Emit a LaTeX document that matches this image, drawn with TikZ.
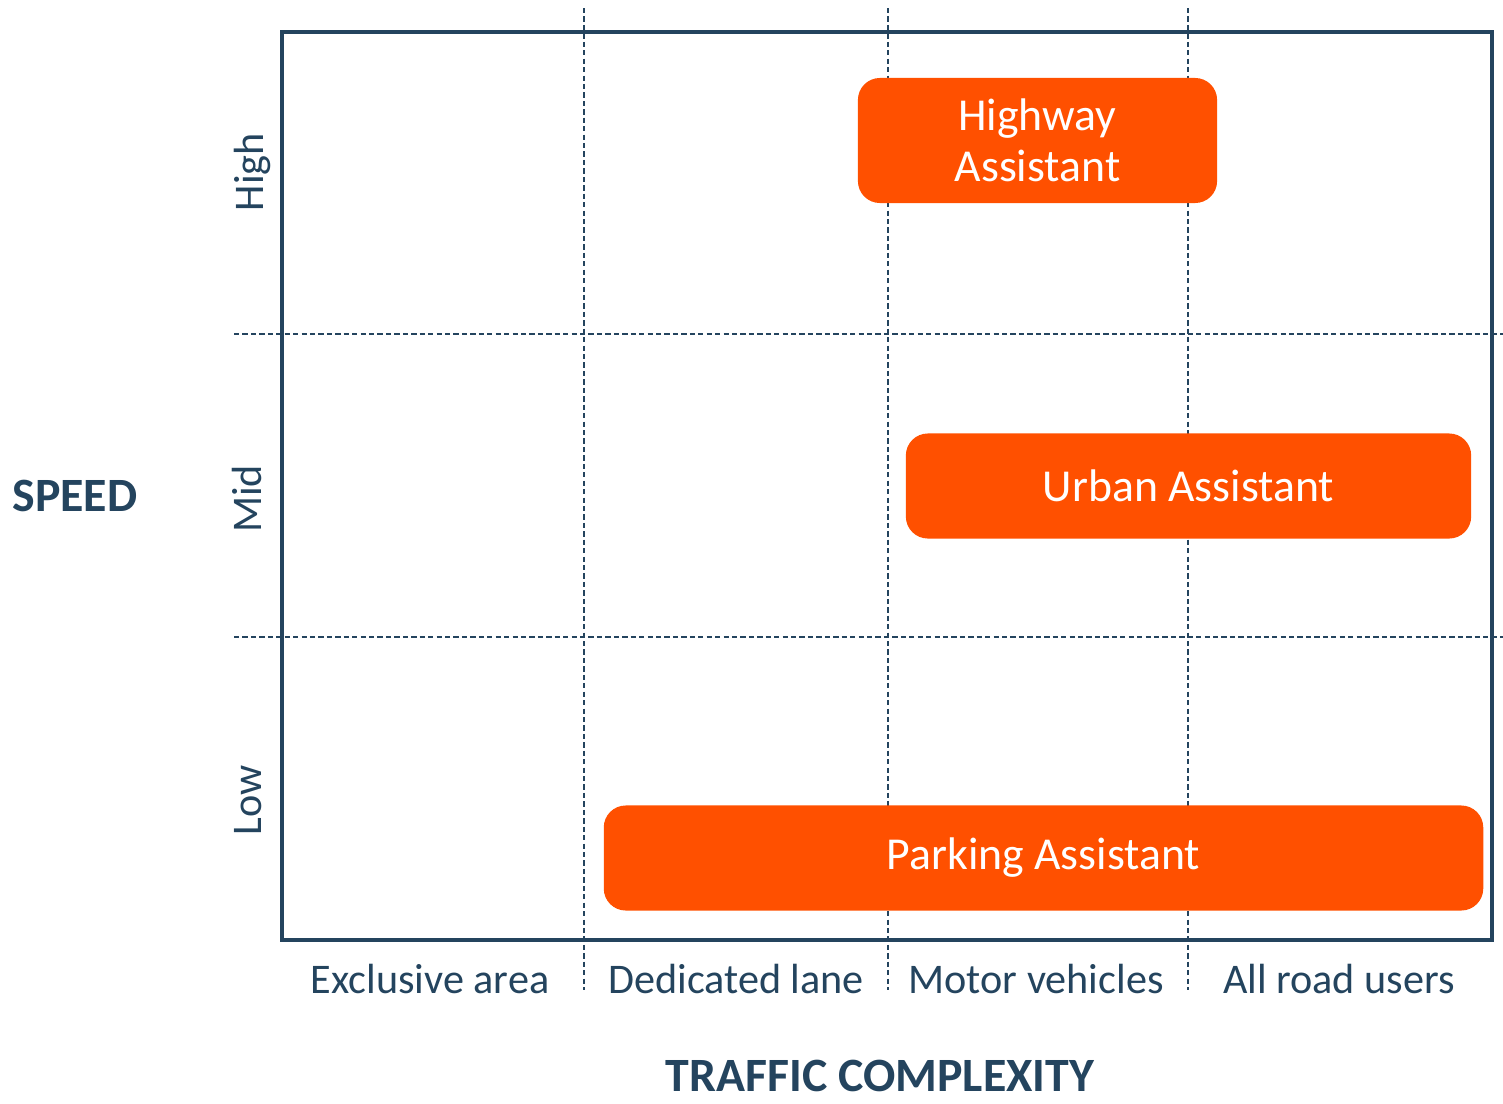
\documentclass[tikz,border=0pt]{standalone}
\usepackage{fontspec}
\setmainfont{Carlito}
\usetikzlibrary{positioning}
\definecolor{axisblue}{HTML}{24445E}
\definecolor{assistorange}{HTML}{FF5000}
\tikzset{
  gridline/.style={axisblue, line width=0.45pt, dash pattern=on 1.5pt off 0.9pt},
  assistbox/.style={fill=assistorange, text=white, rounded corners=0.22cm, align=center, inner sep=0pt, font=\fontsize{13}{14.5}\selectfont},
  catlabel/.style={text=axisblue, font=\fontsize{12}{13}\selectfont},
  axistitle/.style={text=axisblue, inner sep=0pt, font=\bfseries\fontsize{13.6}{15}\selectfont}
}

\begin{document}
\begin{tikzpicture}[x=0.01cm, y=-0.01cm]
			%%%%% START %%%%%
			
			\useasboundingbox (0, 0) rectangle (1503, 1103);
			
			\draw[axisblue, line width=0.9pt] (282, 32) rectangle (1492, 940);
			
			\draw[gridline] (584, 8) -- (584, 990);
			\draw[gridline] (888, 8) -- (888, 990);
			\draw[gridline] (1188, 8) -- (1188, 990);
			
			\draw[gridline] (234, 334) -- (1503, 334);
			\draw[gridline] (234, 637) -- (1503, 637);
			
			\node[assistbox, minimum width=3.59cm, minimum height=1.25cm] (highway) at (1037.5, 140.5) {Highway\\Assistant};
			\node[assistbox, minimum width=5.65cm, minimum height=1.05cm] (urban) at (1188.5, 486) {Urban Assistant};
			\node[assistbox, minimum width=8.79cm, minimum height=1.05cm] (parking) at (1043.5, 858) {Parking Assistant};
			
			\node[catlabel, rotate=90] (high) at (252, 172) {High};
			\node[catlabel, rotate=90] (mid) at (247, 499) {Mid};
			\node[catlabel, rotate=90] (low) at (248, 800) {Low};
			
			\node[catlabel, anchor=base] (exclusive) at (430, 993) {Exclusive area};
			\node[catlabel, anchor=base] (dedicated) at (736, 993) {Dedicated lane};
			\node[catlabel, anchor=base] (motor) at (1036, 993) {Motor vehicles};
			\node[catlabel, anchor=base] (allusers) at (1339, 993) {All road users};
			
			\node[axistitle] (speed) at (75, 496) {SPEED};
			\node[axistitle, anchor=base] (traffic) at (880, 1091) {TRAFFIC COMPLEXITY};
			
			%%%%% END %%%%%
		\end{tikzpicture}
\end{document}
